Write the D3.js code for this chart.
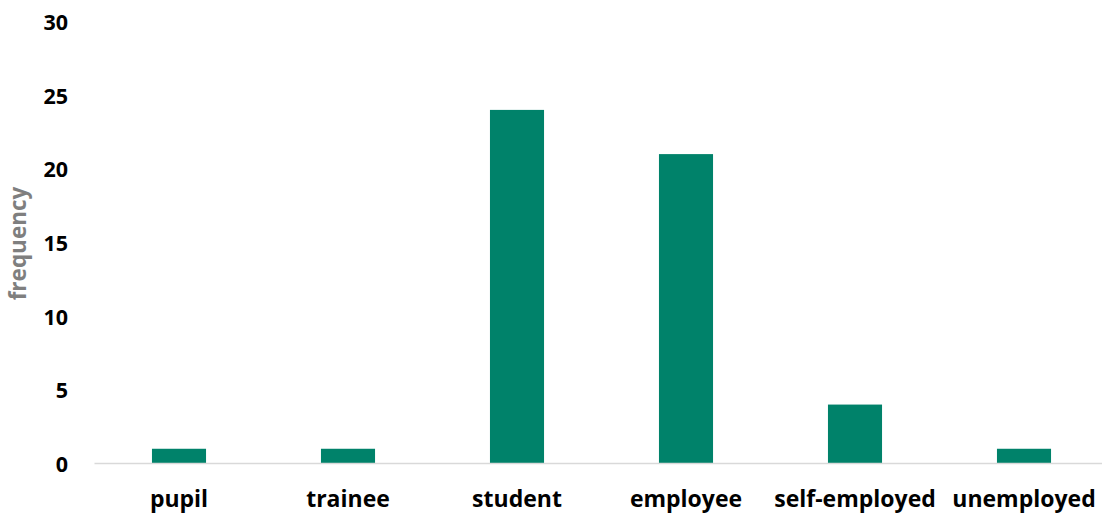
<!DOCTYPE html>
<html>
<head>
<meta charset="utf-8">
<script src="https://cdn.jsdelivr.net/npm/d3@7"></script>
<style>
  html, body { margin: 0; padding: 0; background: #fff; }
  svg { display: block; }
  text { font-family: "Open Sans", Lato, sans-serif; font-weight: 700; }
</style>
</head>
<body>
<svg id="chart" width="1102" height="514"></svg>
<script>
// Occupation categories and their frequencies
const categories = ["pupil", "trainee", "student", "employee", "self-employed", "unemployed"];
const frequencies = [1, 1, 24, 21, 4, 1];
const yTicks = [0, 5, 10, 15, 20, 25, 30];
const yLabel = "frequency";

const width = 1102, height = 514;
const margin = { left: 94.5, right: -6.5, top: 21.5, bottom: 50.5 };
const fontFamily = "'Open Sans', Lato, sans-serif";

const svg = d3.select("#chart");

const x = d3.scaleBand()
  .domain(categories)
  .range([margin.left, width - margin.right])
  .paddingInner(0.68)
  .paddingOuter(0.34);

const y = d3.scaleLinear()
  .domain([0, 30])
  .range([height - margin.bottom, margin.top]);

// Bars
svg.append("g")
  .selectAll("rect")
  .data(categories)
  .join("rect")
  .attr("x", d => x(d))
  .attr("width", x.bandwidth())
  .attr("y", (d, i) => y(frequencies[i]))
  .attr("height", (d, i) => y(0) - y(frequencies[i]))
  .attr("fill", "#00826a");

// Baseline
svg.append("line")
  .attr("x1", margin.left)
  .attr("x2", width)
  .attr("y1", y(0))
  .attr("y2", y(0))
  .attr("stroke", "#d9d9d9")
  .attr("stroke-width", 1.5);

// Y axis labels
const yAxis = d3.axisLeft(y).tickValues(yTicks).tickSize(0).tickPadding(0);
const gy = svg.append("g")
  .attr("transform", "translate(68,1)")
  .call(yAxis);
gy.select(".domain").remove();
gy.selectAll("text")
  .attr("font-family", fontFamily)
  .attr("font-weight", 700)
  .attr("font-size", 21.5)
  .attr("fill", "#000");

// X axis labels
const xAxis = d3.axisBottom(x).tickSize(0).tickPadding(0);
const gx = svg.append("g")
  .attr("transform", `translate(0,${y(0)})`)
  .call(xAxis);
gx.select(".domain").remove();
gx.selectAll("text")
  .attr("dy", null)
  .attr("y", 43)
  .attr("font-family", fontFamily)
  .attr("font-weight", 700)
  .attr("font-size", 23)
  .attr("fill", "#000");

// Y axis title
svg.append("text")
  .attr("transform", `translate(26,${(y(0) + y(30)) / 2 + 1}) rotate(-90)`)
  .attr("text-anchor", "middle")
  .attr("font-family", fontFamily)
  .attr("font-size", 22.5)
  .attr("fill", "#7f7f7f")
  .text(yLabel);
</script>
</body>
</html>
